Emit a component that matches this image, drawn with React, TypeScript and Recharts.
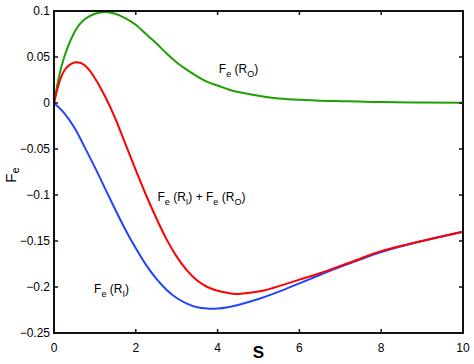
import { LineChart, Line, XAxis, YAxis, ReferenceDot, ReferenceLine } from 'recharts';

// sample positions along S and the three curves
const sValues = [0, 0.1, 0.25, 0.5, 0.75, 1, 1.25, 1.5, 1.75, 2, 2.25, 2.5, 2.75, 3, 3.25, 3.5, 3.75, 4, 4.25, 4.5, 5, 5.5, 6, 6.5, 7, 7.5, 8, 9, 10];
const feRO = [0, 0.024, 0.05, 0.077, 0.091, 0.097, 0.099, 0.097, 0.092, 0.085, 0.075, 0.065, 0.054, 0.044, 0.036, 0.029, 0.023, 0.019, 0.015, 0.012, 0.008, 0.005, 0.0035, 0.0025, 0.002, 0.0015, 0.001, 0.0005, 0.0002];
const feRI = [0, -0.004, -0.011, -0.027, -0.048, -0.07, -0.093, -0.116, -0.138, -0.158, -0.176, -0.191, -0.203, -0.212, -0.218, -0.222, -0.2235, -0.2235, -0.222, -0.2195, -0.213, -0.205, -0.196, -0.187, -0.178, -0.17, -0.162, -0.15, -0.14];
const feSum = [0, 0.018, 0.035, 0.044, 0.041, 0.027, 0.007, -0.017, -0.045, -0.073, -0.1, -0.125, -0.148, -0.167, -0.182, -0.193, -0.2, -0.204, -0.2065, -0.2075, -0.205, -0.199, -0.192, -0.185, -0.177, -0.169, -0.161, -0.15, -0.14];

const xTicks = [0, 2, 4, 6, 8, 10];
const yTicks = [-0.25, -0.2, -0.15, -0.1, -0.05, 0, 0.05, 0.1];

const data = sValues.map((s, i) => ({ s, ro: feRO[i], ri: feRI[i], sum: feSum[i] }));

const FONT = '"Liberation Sans", Arial, Helvetica, sans-serif';
const fmtY = (v: number) => String(v).replace('-', '\u2212');
const TICK = 4;
const X_MAX = 10;
const Y_MAX = 0.1;
const INK = '#111';

// plot frame (matches chart margins / axis sizes below)
const W = 474;
const H = 364;
const M_TOP = 11;
const M_RIGHT = 11;
const Y_AXIS_W = 54;
const X_AXIS_H = 31;

type Part = { t: string; sub?: boolean };

// text with subscripts, drawn at a data point
const annot = (parts: Part[]) => (props: any) => {
  const { cx, cy } = props;
  let shift = 0;
  return (
    <text x={cx} y={cy} fontFamily={FONT} fontSize={12} fill="#000">
      {parts.map((p, i) => {
        const dy = p.sub ? 4 - shift : -shift;
        shift = p.sub ? 4 : 0;
        return (
          <tspan key={i} dy={dy} fontSize={p.sub ? 9 : 12}>{p.t}</tspan>
        );
      })}
    </text>
  );
};

// inward ticks + labels (MATLAB style)
const renderBottomTick = (props: any) => {
  const { x, y, payload } = props;
  const base = y - 10;
  return (
    <g key={`b${payload.value}`}>
      <path d={`M${x},${base}V${base - TICK}`} stroke={INK} strokeWidth={1.5} fill="none" />
      <text x={x} y={y} dy="0.71em" textAnchor="middle" fontFamily={FONT} fontSize={12} fill="#000">{payload.value}</text>
    </g>
  );
};
const renderLeftTick = (props: any) => {
  const { x, y, payload } = props;
  const base = x + 4;
  return (
    <g key={`l${payload.value}`}>
      <path d={`M${base},${y}H${base + TICK}`} stroke={INK} strokeWidth={1.5} fill="none" />
      <text x={x} y={y} dy="0.355em" textAnchor="end" fontFamily={FONT} fontSize={12} fill="#000">{fmtY(payload.value)}</text>
    </g>
  );
};
// mirrored ticks on the top and right edges of the box
const topTick = (props: any) => (
  <path d={`M${props.cx},${props.cy}V${props.cy + TICK}`} stroke={INK} strokeWidth={1.5} fill="none" />
);
const rightTick = (props: any) => (
  <path d={`M${props.cx},${props.cy}H${props.cx - TICK}`} stroke={INK} strokeWidth={1.5} fill="none" />
);

const axisStyle = { stroke: INK, strokeWidth: 1.5 };

export default function App() {
  return (
    <div style={{ position: 'absolute', left: 0, top: 0, width: W, height: H, background: '#fff' }}>
      <LineChart width={W} height={H} data={data} margin={{ top: M_TOP, right: M_RIGHT, bottom: 0, left: 0 }}>
        <XAxis
          xAxisId="b"
          dataKey="s"
          type="number"
          domain={[0, X_MAX]}
          ticks={xTicks}
          height={X_AXIS_H}
          tickSize={0}
          tickMargin={10}
          axisLine={axisStyle}
          tickLine={false}
          tick={renderBottomTick}
        />
        <YAxis
          yAxisId="l"
          type="number"
          domain={[-0.25, Y_MAX]}
          ticks={yTicks}
          width={Y_AXIS_W}
          tickSize={0}
          tickMargin={4}
          axisLine={axisStyle}
          tickLine={false}
          tick={renderLeftTick}
        />
        <ReferenceLine xAxisId="b" yAxisId="l" y={Y_MAX} stroke={INK} strokeWidth={2} ifOverflow="visible" />
        <ReferenceLine xAxisId="b" yAxisId="l" x={X_MAX} stroke={INK} strokeWidth={2} ifOverflow="visible" />
        {xTicks.slice(1, -1).map((t) => (
          <ReferenceDot key={`tt${t}`} xAxisId="b" yAxisId="l" x={t} y={Y_MAX} ifOverflow="visible" shape={topTick} />
        ))}
        {yTicks.slice(1, -1).map((t) => (
          <ReferenceDot key={`rt${t}`} xAxisId="b" yAxisId="l" x={X_MAX} y={t} ifOverflow="visible" shape={rightTick} />
        ))}
        <Line xAxisId="b" yAxisId="l" type="natural" dataKey="ro" stroke="#1ea000" strokeWidth={2} dot={false} isAnimationActive={false} />
        <Line xAxisId="b" yAxisId="l" type="natural" dataKey="ri" stroke="#2343ff" strokeWidth={2} dot={false} isAnimationActive={false} />
        <Line xAxisId="b" yAxisId="l" type="natural" dataKey="sum" stroke="#ff0000" strokeWidth={2} dot={false} isAnimationActive={false} />
        <ReferenceDot
          xAxisId="b" yAxisId="l" x={4.03} y={0.0326}
          shape={annot([{ t: 'F' }, { t: 'e', sub: true }, { t: '\u00a0(R' }, { t: 'O', sub: true }, { t: ')' }])}
        />
        <ReferenceDot
          xAxisId="b" yAxisId="l" x={2.53} y={-0.1062}
          shape={annot([{ t: 'F' }, { t: 'e', sub: true }, { t: '\u00a0(R' }, { t: 'I', sub: true }, { t: ')\u00a0+\u00a0F' }, { t: 'e', sub: true }, { t: '\u00a0(R' }, { t: 'O', sub: true }, { t: ')' }])}
        />
        <ReferenceDot
          xAxisId="b" yAxisId="l" x={0.98} y={-0.2068}
          shape={annot([{ t: 'F' }, { t: 'e', sub: true }, { t: '\u00a0(R' }, { t: 'I', sub: true }, { t: ')' }])}
        />
      </LineChart>
      {/* box around the plot area, drawn as an HTML border */}
      <div
        style={{
          position: 'absolute',
          left: Y_AXIS_W - 1,
          top: M_TOP - 1,
          width: W - Y_AXIS_W - M_RIGHT + 2,
          height: H - M_TOP - X_AXIS_H + 2,
          border: `2px solid ${INK}`,
          boxSizing: 'border-box',
          pointerEvents: 'none',
        }}
      />
      <svg width={W} height={H} style={{ position: 'absolute', left: 0, top: 0, pointerEvents: 'none' }}>
        <text x={16} y={175} transform="rotate(-90, 16, 175)" textAnchor="middle" fontFamily={FONT} fontSize={15} fill="#000">
          <tspan>F</tspan>
          <tspan dy={3} fontSize={11}>e</tspan>
        </text>
        <text x={258.5} y={358} textAnchor="middle" fontFamily={FONT} fontSize={17} fontWeight={700} fill="#000">S</text>
      </svg>
    </div>
  );
}
